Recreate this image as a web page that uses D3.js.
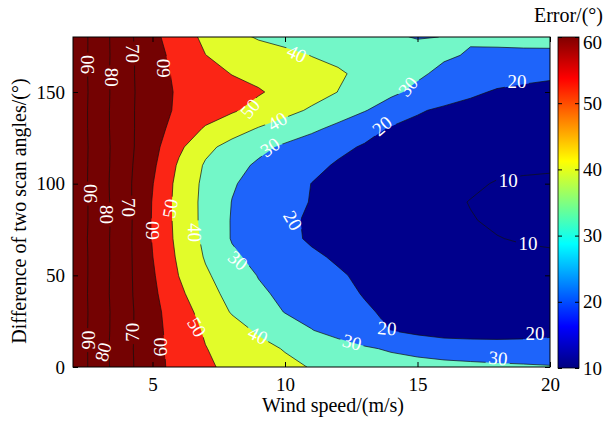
<!DOCTYPE html>
<html lang="en">
  <head>
    <meta charset="UTF-8" />
    <script src="https://d3js.org/d3.v7.min.js"></script>
    <title>Error contour</title>
    <style>
      body {
        margin: 0;
        background: #fff;
      }
      text {
        font-family: "Liberation Serif", "Times New Roman", serif;
        fill: #000;
      }
      .tick text {
        font-size: 19px;
      }
      .axis-title {
        font-size: 20px;
      }
      .clabel {
        font-size: 19px;
        fill: #fff;
      }
    </style>
  </head>
  <body>
    <svg id="chart" width="604" height="421"></svg>

    <script>
      // grid of the error, rows = scan angle difference, columns = wind speed
      const speeds = [2, 3, 4, 5, 6, 7, 8, 9, 10, 11, 12, 13, 14, 15, 16, 17, 18, 19, 20];
      const angles = [0, 10, 20, 30, 40, 50, 60, 70, 80, 90, 100, 110, 120, 130, 140, 150, 160, 170, 180];
      const errorGrid = [
        [97, 84.4, 72.8, 63.3, 56.7, 51.4, 47.9, 45.1, 42.3, 39.5, 37, 35, 34, 33, 32.5, 32, 31.5, 31, 30.5],
        [97.2, 84.2, 72.6, 63.2, 56.2, 50.3, 46.5, 42.9, 39.4, 36.7, 33.9, 31.1, 29, 27.5, 26, 25.3, 24.8, 24.8, 25],
        [96.8, 84.5, 72.9, 63.1, 55.5, 48.9, 43.7, 38.7, 34.5, 30.3, 26.8, 23.4, 19.9, 17.5, 15.6, 15.2, 15.3, 15.8, 16.8],
        [97, 84.6, 73, 62.9, 54.4, 46.5, 39.3, 34.4, 29.7, 26.9, 24, 21.1, 18.5, 16.5, 15, 14.2, 14, 14.2, 14.8],
        [96.9, 84.3, 72.7, 62.1, 52, 43.6, 37, 31.6, 28, 25.2, 22.4, 19.5, 17.5, 15.5, 14, 13.2, 12.8, 12.7, 13],
        [97.1, 84.4, 72.8, 61.2, 49.8, 41.3, 35.1, 29.6, 26.7, 23.8, 20.9, 18.5, 16.5, 15, 13.8, 12.8, 12.2, 11.8, 11.6],
        [97, 84.5, 72.9, 60.2, 48.3, 39.2, 31.6, 27.5, 24.4, 21.3, 19, 17, 15.5, 14.2, 13.2, 12.4, 11.8, 11.2, 10.8],
        [96.8, 84.3, 73, 59.5, 47.2, 37.9, 29.4, 25.7, 22, 19, 17.5, 16, 14.5, 13.2, 12, 11, 10.2, 9.5, 9.2],
        [97, 84.6, 73.2, 59.4, 46.7, 37.4, 29.4, 25.6, 21.7, 18.8, 17, 15.5, 14, 12.8, 11.7, 10.3, 9.2, 8.6, 8.4],
        [97.2, 84.4, 72.9, 59.6, 46.5, 37.4, 29.8, 26.4, 23, 19.6, 17.5, 15.6, 14, 12.6, 11.3, 9.8, 8.7, 8.2, 8.2],
        [97, 84.2, 72.6, 60.4, 46.9, 37.8, 30.8, 26.9, 23.5, 19.9, 18, 16.3, 14.8, 13.4, 12.2, 11, 9.6, 9.2, 9.2],
        [96.9, 84.5, 72.8, 61.9, 48.6, 38.9, 33.1, 28.6, 25.4, 22.2, 19.1, 17.2, 15.6, 14.3, 13.2, 12.3, 11.5, 11, 10.6],
        [97.1, 84.6, 73.1, 63.2, 51.9, 42.4, 36.8, 32.4, 28.5, 25.2, 21.9, 19.2, 17.5, 16, 14.8, 13.8, 13, 12.4, 12],
        [97, 84.3, 72.9, 63.9, 56.1, 49, 44.1, 39.4, 35.6, 31.8, 27.7, 23.2, 19.2, 17.5, 16, 15, 14.2, 13.6, 13.2],
        [96.8, 84.4, 72.7, 64.3, 58.4, 54.7, 51.1, 47.1, 42.9, 38.8, 34.7, 30.5, 25.8, 20.9, 18.5, 17.3, 16.5, 16, 15.6],
        [97.2, 84.5, 73, 64.2, 58.8, 56.1, 53.5, 50.8, 47.4, 43.7, 39.9, 35.8, 31.7, 28, 24.7, 21.4, 19.2, 18.5, 18],
        [97, 84.3, 72.8, 64.1, 58, 53.7, 49.7, 47.5, 45.3, 43.2, 41, 38.1, 34.7, 31.4, 28, 25.5, 23.5, 22, 21.2],
        [96.9, 84.6, 73, 63.75, 56.5, 50.1, 47.4, 44.9, 42.3, 39.8, 38.1, 36.4, 34.6, 32.9, 31.1, 29.3, 28.4, 27.7, 27.2],
        [97.1, 84.4, 72.9, 62.6, 54.5, 48.1, 43.2, 39, 37, 35, 33.5, 32.3, 30.9, 29.6, 30.1, 30.8, 32, 33.5, 34.5],
      ];

      const levels = [10, 20, 30, 40, 50, 60, 70, 80, 90];
      const levelColors = ["#00008c", "#1e64fa", "#73f7c8", "#e2fc2a", "#fb2515", "#740202", "#740202", "#740202", "#740202"];
      const lowColor = "#00008c";

      const xTicks = [5, 10, 15, 20];
      const yTicks = [0, 50, 100, 150];
      const barTicks = [10, 20, 30, 40, 50, 60];

      // inline contour labels: [speed, angle, text, rotation]
      const contourLabels = [
        [2.53, 165, "90", -90], [3.45, 158, "80", 90], [4.26, 171, "70", 90], [5.4, 163, "60", -90],
        [8.68, 141, "50", -50], [9.7, 134, "40", -30], [9.43, 120, "30", -35], [10.45, 171, "40", 25],
        [14.64, 153, "30", -50], [13.66, 131.6, "20", -40], [18.75, 156, "20", 0], [18.42, 101.7, "10", 0],
        [19.17, 67.4, "10", 0],
        [2.64, 94.6, "90", -90], [3.28, 83.2, "80", 90], [4.11, 87, "70", 90], [4.98, 74.5, "60", -90],
        [5.66, 86.5, "50", -80], [6.6, 73.4, "40", 90], [10.3, 80, "20", 60], [8.23, 58.2, "30", 40],
        [2.57, 14.7, "90", -90], [3.13, 8.2, "80", -75], [4.23, 19, "70", -90], [5.28, 10.9, "60", -90],
        [6.68, 21.8, "50", 60], [8.98, 17.4, "40", 25], [12.53, 13.6, "30", 15], [13.85, 21.2, "20", 5],
        [19.43, 18.5, "20", 0], [18.04, 4.9, "30", 5],
      ];

      const plotLeft = 73, plotRight = 550, plotTop = 37, plotBottom = 367;
      const barLeft = 558, barRight = 579;

      const svg = d3.select("#chart");
      const defs = svg.append("defs");

      const xScale = d3.scaleLinear().domain([2, 20]).range([plotLeft, plotRight]);
      const yScale = d3.scaleLinear().domain([0, 180]).range([plotBottom, plotTop]);

      // grid index space -> data space (values sit at cell centres)
      const gx = d3.scaleLinear().domain(speeds.map((d, i) => i + 0.5)).range(speeds);
      const gy = d3.scaleLinear().domain(angles.map((d, i) => i + 0.5)).range(angles);

      const path = d3.geoPath(
        d3.geoTransform({
          point: function (x, y) {
            this.stream.point(xScale(gx(x)), yScale(gy(y)));
          },
        })
      );

      const contours = d3
        .contours()
        .size([speeds.length, angles.length])
        .thresholds(levels)(errorGrid.flat());

      defs
        .append("clipPath")
        .attr("id", "plotClip")
        .append("rect")
        .attr("x", plotLeft)
        .attr("y", plotTop)
        .attr("width", plotRight - plotLeft)
        .attr("height", plotBottom - plotTop);

      // cut the lines where the labels sit
      const mask = defs
        .append("mask")
        .attr("id", "labelMask")
        .attr("maskUnits", "userSpaceOnUse")
        .attr("x", 0)
        .attr("y", 0)
        .attr("width", 604)
        .attr("height", 421);
      mask.append("rect").attr("width", 604).attr("height", 421).attr("fill", "#fff");
      mask
        .selectAll("rect.hole")
        .data(contourLabels)
        .join("rect")
        .attr("class", "hole")
        .attr("x", -12)
        .attr("y", -8)
        .attr("width", 24)
        .attr("height", 16)
        .attr("fill", "#000")
        .attr("transform", (d) => `translate(${xScale(d[0])},${yScale(d[1])}) rotate(${d[3]})`);

      const plot = svg.append("g").attr("clip-path", "url(#plotClip)");

      plot
        .append("rect")
        .attr("x", plotLeft)
        .attr("y", plotTop)
        .attr("width", plotRight - plotLeft)
        .attr("height", plotBottom - plotTop)
        .attr("fill", lowColor);

      plot
        .append("g")
        .selectAll("path")
        .data(contours)
        .join("path")
        .attr("d", path)
        .attr("fill", (d, i) => levelColors[i])
        .attr("stroke", "none");

      plot
        .append("g")
        .attr("mask", "url(#labelMask)")
        .selectAll("path")
        .data(contours)
        .join("path")
        .attr("d", path)
        .attr("fill", "none")
        .attr("stroke", "#111")
        .attr("stroke-width", 0.7);

      plot
        .append("g")
        .selectAll("text")
        .data(contourLabels)
        .join("text")
        .attr("class", "clabel")
        .attr("text-anchor", "middle")
        .attr("dy", "0.35em")
        .attr("transform", (d) => `translate(${xScale(d[0])},${yScale(d[1])}) rotate(${d[3]})`)
        .text((d) => d[2]);

      // frame + ticks
      svg
        .append("rect")
        .attr("x", plotLeft)
        .attr("y", plotTop)
        .attr("width", plotRight - plotLeft)
        .attr("height", plotBottom - plotTop)
        .attr("fill", "none")
        .attr("stroke", "#000");

      function styleAxis(g) {
        g.attr("font-family", null).attr("font-size", null);
        g.select(".domain").remove();
        g.selectAll(".tick line").attr("stroke", "#000");
      }

      svg
        .append("g")
        .attr("transform", `translate(0,${plotBottom})`)
        .call(d3.axisBottom(xScale).tickValues(xTicks).tickSize(-5).tickPadding(11))
        .call(styleAxis);
      svg
        .append("g")
        .attr("transform", `translate(0,${plotTop})`)
        .call(d3.axisTop(xScale).tickValues(xTicks).tickSize(-5).tickFormat(""))
        .call(styleAxis);
      svg
        .append("g")
        .attr("transform", `translate(${plotLeft},0)`)
        .call(d3.axisLeft(yScale).tickValues(yTicks).tickSize(-5).tickPadding(8))
        .call(styleAxis);
      svg
        .append("g")
        .attr("transform", `translate(${plotRight},0)`)
        .call(d3.axisRight(yScale).tickValues(yTicks).tickSize(-5).tickFormat(""))
        .call(styleAxis);

      // axis titles
      svg
        .append("text")
        .attr("class", "axis-title")
        .attr("x", 333)
        .attr("y", 412)
        .attr("text-anchor", "middle")
        .text("Wind speed/(m/s)");

      svg
        .append("text")
        .attr("class", "axis-title")
        .attr("transform", "translate(26,211) rotate(-90)")
        .attr("text-anchor", "middle")
        .text("Difference of two scan angles/(°)");

      // colour bar (jet)
      function jet(t) {
        const c = (v) => Math.round(255 * Math.max(0, Math.min(1, 1.5 - Math.abs(4 * t - v))));
        return `rgb(${c(3)},${c(2)},${c(1)})`;
      }
      const grad = defs
        .append("linearGradient")
        .attr("id", "jetGrad")
        .attr("x1", 0)
        .attr("y1", 1)
        .attr("x2", 0)
        .attr("y2", 0);
      grad
        .selectAll("stop")
        .data(d3.range(0, 1.0001, 0.025))
        .join("stop")
        .attr("offset", (d) => d)
        .attr("stop-color", (d) => jet(d));

      const barScale = d3.scaleLinear().domain([10, 60]).range([plotBottom + 1, plotTop]);

      svg
        .append("rect")
        .attr("x", barLeft)
        .attr("y", plotTop)
        .attr("width", barRight - barLeft)
        .attr("height", plotBottom + 1 - plotTop)
        .attr("fill", "url(#jetGrad)")
        .attr("stroke", "#000")
        .attr("stroke-width", 0.8);

      const barAxis = svg
        .append("g")
        .attr("transform", `translate(${barRight},0)`)
        .call(d3.axisRight(barScale).tickValues(barTicks).tickSize(-4).tickPadding(4))
        .call(styleAxis);
      // the top label sits a little under the bar's end, as in the source
      barAxis
        .selectAll(".tick text")
        .filter((d) => d === 60)
        .attr("dy", "0.62em");
      svg
        .append("g")
        .attr("transform", `translate(${barLeft},0)`)
        .call(d3.axisLeft(barScale).tickValues(barTicks).tickSize(-4).tickFormat(""))
        .call(styleAxis);

      svg
        .append("text")
        .attr("class", "axis-title")
        .attr("x", 603)
        .attr("y", 22)
        .attr("text-anchor", "end")
        .text("Error/(°)");
    </script>
  </body>
</html>
